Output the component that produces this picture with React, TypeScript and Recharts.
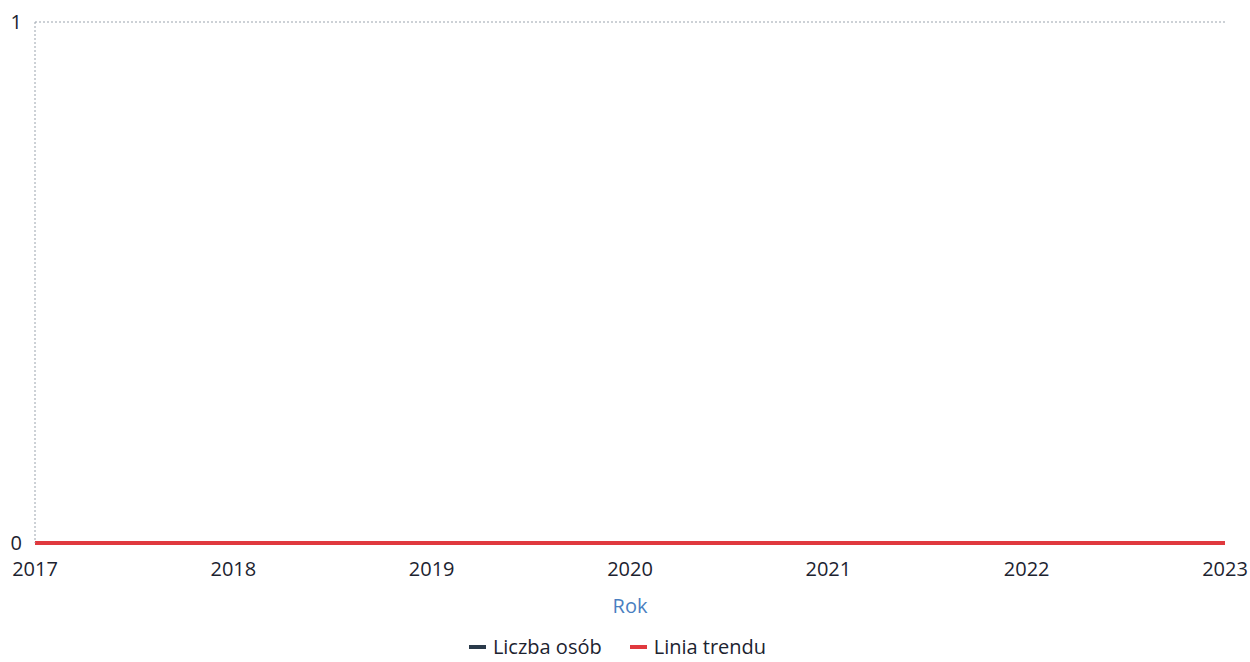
import React from 'react';
import { LineChart, Line, XAxis, YAxis, CartesianGrid, Legend } from 'recharts';

const years = ['2017', '2018', '2019', '2020', '2021', '2022', '2023'];
const liczbaOsob = [0, 0, 0, 0, 0, 0, 0];
const liniaTrendu = [0, 0, 0, 0, 0, 0, 0];
const yTicks = [0, 1];

const data = years.map((rok, i) => ({
  rok,
  liczba: liczbaOsob[i],
  trend: liniaTrendu[i],
}));

const font = '"Open Sans", "Noto Sans", sans-serif';
const textColor = '#1c2330';

// legend with short thick bars like the original
const renderLegend = (props: any) => (
  <div style={{ display: 'flex', justifyContent: 'center', gap: 28, fontSize: 20, lineHeight: '30px', fontFamily: font, color: textColor, transform: 'translateX(5px)' }}>
    {props.payload.map((item: any) => (
      <div key={item.value} style={{ display: 'flex', alignItems: 'center' }}>
        <span style={{ display: 'inline-block', width: 17, height: 4, background: item.color, marginRight: 7 }} />
        {item.value}
      </div>
    ))}
  </div>
);

export default function App() {
  return (
    <div style={{ position: 'absolute', left: 0, top: 0, background: '#fff', fontFamily: font }}>
      <LineChart
        width={1250}
        height={662}
        data={data}
        margin={{ top: 22, right: 25, bottom: 0, left: 0 }}
      >
        <CartesianGrid
          horizontal={true}
          vertical={false}
          stroke="#9aa3ad"
          strokeDasharray="2 2"
          horizontalValues={[1]}
        />
        <XAxis
          dataKey="rok"
          axisLine={false}
          tickLine={false}
          tickMargin={13}
          height={89}
          tick={{ fill: textColor, fontSize: 20, fontFamily: font }}
          interval={0}
          label={{ value: 'Rok', position: 'insideBottom', offset: 19, fill: '#4a7fc1', fontSize: 20, fontFamily: font }}
        />
        <YAxis
          domain={[0, 1]}
          ticks={yTicks}
          width={35}
          axisLine={{ stroke: '#9aa3ad', strokeDasharray: '2 2' }}
          tickLine={false}
          tickSize={0}
          tickMargin={13}
          tick={{ fill: textColor, fontSize: 20, fontFamily: font }}
        />
        <Legend verticalAlign="bottom" height={30} content={renderLegend} />
        <Line
          name="Liczba osób"
          dataKey="liczba"
          stroke="#2a3a4a"
          strokeWidth={4}
          dot={false}
          isAnimationActive={false}
        />
        <Line
          name="Linia trendu"
          dataKey="trend"
          stroke="#e0393e"
          strokeWidth={4}
          dot={false}
          isAnimationActive={false}
        />
      </LineChart>
    </div>
  );
}
